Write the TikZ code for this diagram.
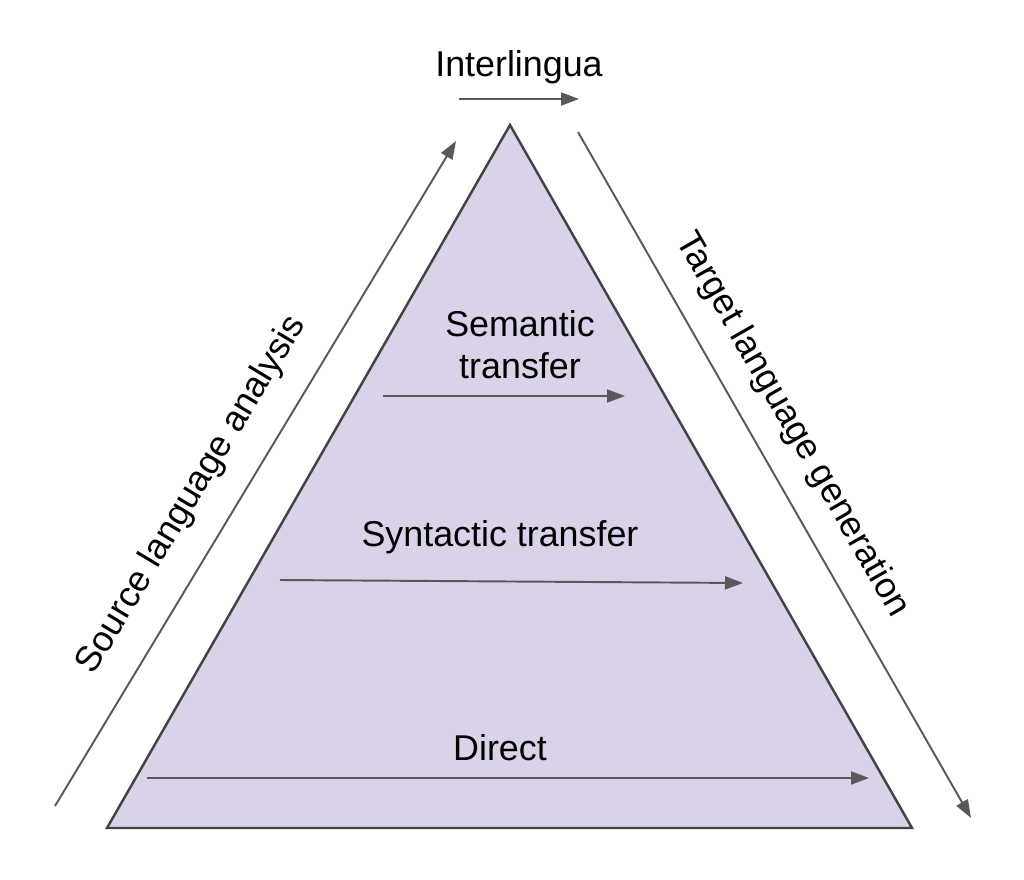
\documentclass[tikz,border=0pt]{standalone}
\usepackage{fontspec}
\setmainfont{Liberation Sans}
\usepackage{tikz}
\usetikzlibrary{arrows.meta,positioning}
\definecolor{lavender}{RGB}{217,210,233}
\definecolor{edgegray}{RGB}{67,67,67}
\definecolor{arrowgray}{RGB}{89,89,89}

\begin{document}
\begin{tikzpicture}[
  x=0.1mm, y=-0.1mm,
  arrow/.style={-{Triangle[length=1.8mm,width=1.3mm]}, line width=0.55pt, arrowgray},
  label/.style={font=\fontsize{10.2}{11.9}\selectfont, align=center, inner sep=0pt}
]
\useasboundingbox (0,0) rectangle (1024,880);

% Pyramid
\coordinate (apex) at (510,125);
\coordinate (bl) at (107,828);
\coordinate (br) at (912,828);
\draw[fill=lavender, draw=edgegray, line width=0.7pt, line join=miter] (apex) -- (br) -- (bl) -- cycle;

% Top arrow
\node[label] (inter) at (519,67) {Interlingua};
\coordinate (i1) at (459,99);
\coordinate (i2) at (579,99);
\draw[arrow] (i1) -- (i2);

% Side arrows
\coordinate (s1) at (55,806);
\coordinate (s2) at (456,141);
\draw[arrow] (s1) -- (s2);
\node[label, rotate=58.9] (source) at (192,495) {Source language analysis};

\coordinate (t1) at (578,132);
\coordinate (t2) at (971,818);
\draw[arrow] (t1) -- (t2);
\node[label, rotate=-60.2] (target) at (792,425) {Target language generation};

% Transfer levels
\node[label] (sem) at (520,345) {Semantic\\transfer};
\coordinate (a1) at (383,396);
\coordinate (a2) at (625,396);
\draw[arrow] (a1) -- (a2);

\node[label] (syn) at (500,537) {Syntactic transfer};
\coordinate (b1) at (280,580);
\coordinate (b2) at (743,583);
\draw[arrow] (b1) -- (b2);

\node[label] (dir) at (500,748) {Direct};
\coordinate (c1) at (147,778);
\coordinate (c2) at (869,778);
\draw[arrow] (c1) -- (c2);

\end{tikzpicture}
\end{document}
